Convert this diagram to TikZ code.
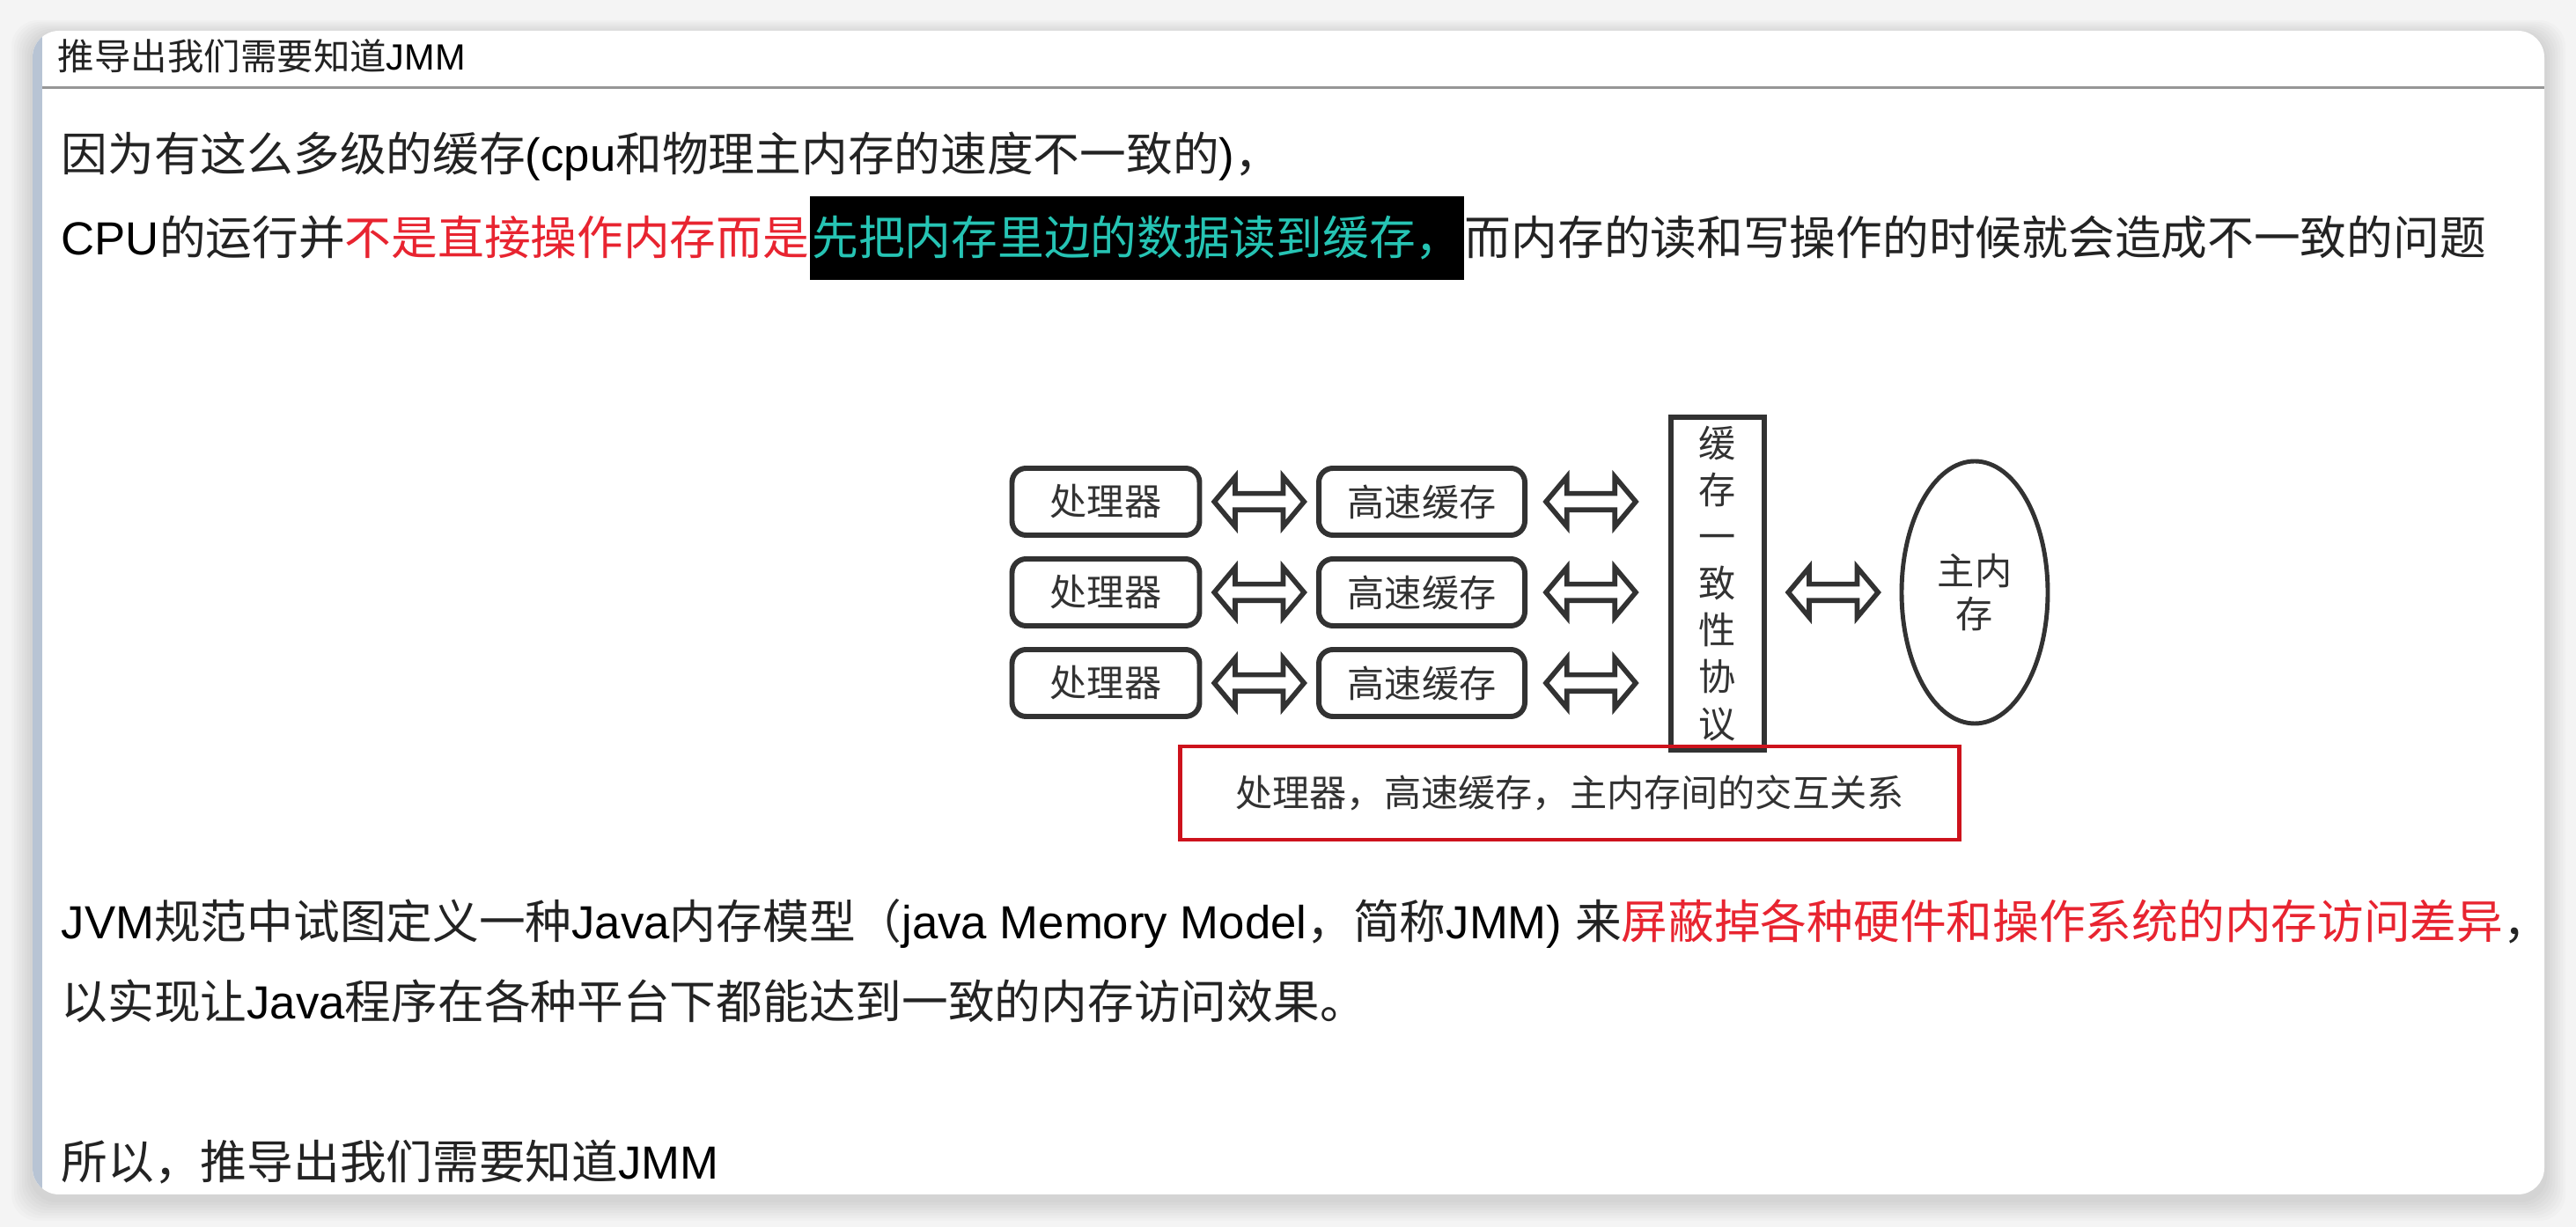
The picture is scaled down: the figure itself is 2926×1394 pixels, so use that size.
\documentclass[tikz,border=0pt]{standalone}
\usepackage{fontspec}
\setmainfont{Noto Sans CJK SC}
\newfontfamily\lat{Liberation Sans}
\usetikzlibrary{positioning, calc, shapes.geometric, shapes.arrows}
\definecolor{inkgray}{RGB}{50,50,50}
\definecolor{textgray}{RGB}{35,35,35}
\definecolor{hlred}{RGB}{232,36,48}
\definecolor{hlcyan}{RGB}{38,196,180}
\definecolor{framered}{RGB}{205,18,28}
\definecolor{stripblue}{RGB}{184,196,212}
\definecolor{pagegray}{RGB}{244,244,244}
\definecolor{rulegray}{RGB}{150,150,150}
\newcommand{\eng}[1]{{\lat\color{black}#1}}
\tikzset{
  every node/.style={text=textgray},
  body/.style  = {font=\fontsize{15}{18}\selectfont, inner sep=0pt, anchor=base west},
  ttl/.style   = {font=\fontsize{11.8}{14}\selectfont, inner sep=0pt, anchor=base west},
  hl/.style    = {body, fill=black, text=hlcyan, inner xsep=0.2mm, minimum height=9.5mm},
  proc/.style  = {rectangle, rounded corners=1.6mm, draw=inkgray, line width=1.7pt,
                  minimum width=21.3mm, minimum height=7.6mm, inner sep=0pt,
                  font=\fontsize{12}{14}\selectfont, text=inkgray},
  cache/.style = {proc, minimum width=23.4mm},
  proto/.style = {rectangle, draw=inkgray, line width=1.7pt, minimum width=10.6mm,
                  minimum height=37.8mm, inner sep=0pt, align=center,
                  font=\fontsize{12}{15.1}\selectfont, text=inkgray},
  mem/.style   = {ellipse, draw=inkgray, line width=1.4pt, minimum width=16.6mm,
                  minimum height=29.8mm, inner sep=0pt, align=center,
                  font=\fontsize{12}{13.7}\selectfont, text=inkgray},
  dbl/.style   = {double arrow, draw=inkgray, fill=white, line width=1.6pt,
                  minimum height=10.2mm, inner sep=0.65mm,
                  double arrow head extend=1.9mm, double arrow tip angle=100},
  capbox/.style = {rectangle, draw=framered, line width=1.4pt, minimum width=88.5mm,
                   minimum height=10.6mm, inner sep=0pt,
                   font=\fontsize{12}{14}\selectfont, text=inkgray},
}

\begin{document}
\begin{tikzpicture}[x=0.1mm, y=-0.1mm]
  \useasboundingbox (0,0) rectangle (2926,1394);

  % ---- window card ----
  \fill[pagegray] (0,0) rectangle (2926,1394);
  \foreach \i in {1,...,8}
    \fill[black, opacity=0.014, rounded corners=3mm]
      (37-\i*3, 35-\i*2+4) rectangle (2890+\i*3, 1357+\i*3+6);
  \fill[white, rounded corners=3mm] (37,35) rectangle (2890,1357);
  \begin{scope}
    \clip[rounded corners=3mm] (37,35) rectangle (2890,1357);
    \fill[stripblue] (37,35) rectangle (48,1357);
  \end{scope}
  \draw[rulegray, line width=0.85pt] (48,100) -- (2890,100);

  % ---- text lines ----
  \node[ttl]  (title) at (65,80)  {推导出我们需要知道\eng{JMM}};
  \node[body] (l1)    at (69,195) {因为有这么多级的缓存\eng{(cpu}和物理主内存的速度不一致的\eng{)}，};
  \node[body] (l2a)   at (69,290) {\eng{CPU}的运行并\textcolor{hlred}{不是直接操作内存而是}};
  \node[hl, base right=0pt of l2a]   (l2b) {先把内存里边的数据读到缓存，};
  \node[body, base right=0pt of l2b] (l2c) {而内存的读和写操作的时候就会造成不一致的问题};

  % ---- processors / caches ----
  \node[proc]  (p1) at (1256,570) {处理器};
  \node[proc]  (p2) at (1256,673) {处理器};
  \node[proc]  (p3) at (1256,776) {处理器};
  \node[cache] (c1) at (1615,570) {高速缓存};
  \node[cache] (c2) at (1615,673) {高速缓存};
  \node[cache] (c3) at (1615,776) {高速缓存};

  % ---- coherence protocol + main memory ----
  \node[proto] (coh) at (1951,663) {缓\\存\\一\\致\\性\\协\\议};
  \node[mem]   (ram) at (2243,673) {主内\\存};

  % ---- double arrows ----
  \foreach \r in {1,2,3} {
    \node[dbl] (pc\r) at ($(p\r.east)!.5!(c\r.west)$) {};
    \node[dbl] (cc\r) at ($(c\r.east)!.45!(coh.west |- c\r)$) {};
  }
  \node[dbl] (cm) at ($(coh.east |- ram)!.5!(ram.west)$) {};

  \node[capbox] (cap) at (1783,901) {处理器，高速缓存，主内存间的交互关系};

  % ---- text below ----
  \node[body] (l3) at (69,1067) {\eng{JVM}规范中试图定义一种\eng{Java}内存模型（\eng{java Memory Model}，简称\eng{JMM) }来\textcolor{hlred}{屏蔽掉各种硬件和操作系统的内存访问差异}，};
  \node[body] (l4) at (69,1158) {以实现让\eng{Java}程序在各种平台下都能达到一致的内存访问效果。};
  \node[body] (l5) at (69,1340) {所以，推导出我们需要知道\eng{JMM}};
\end{tikzpicture}
\end{document}
